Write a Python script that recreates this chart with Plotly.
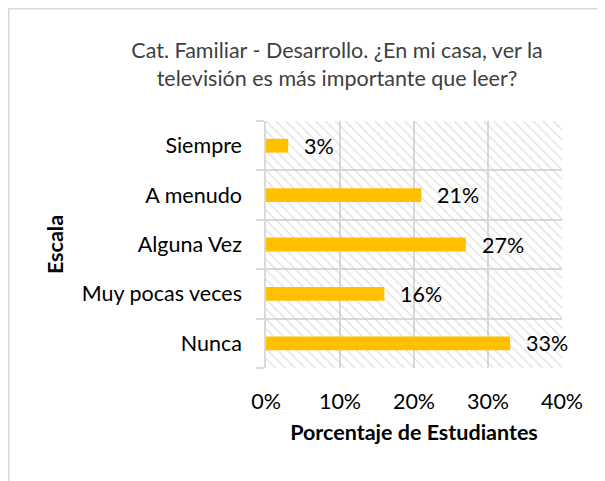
import plotly.graph_objects as go

categories = ["Siempre", "A menudo", "Alguna Vez", "Muy pocas veces", "Nunca"]
values = [0.03, 0.21, 0.27, 0.16, 0.33]
x_ticks = [0, 0.1, 0.2, 0.3, 0.4]

W, H = 605, 481
# page has an 8px body margin; figure coordinates below are page minus 8
L, R, T, B = 258, 51, 113, 121
FONT = "Lato"
FS = 21.5
GRID = "#d9d9d9"

fig = go.Figure()
# hatched plot-area background
fig.add_trace(go.Bar(
    y=categories, x=[x_ticks[-1]] * len(categories), orientation="h", width=1,
    marker=dict(color="rgba(0,0,0,0)", line=dict(width=0),
                pattern=dict(shape="\\", fgcolor="#c8c8c8", size=7, solidity=0.22)),
    hoverinfo="skip", showlegend=False,
))
fig.add_trace(go.Bar(
    y=categories, x=values, orientation="h", width=0.28,
    marker=dict(color="#FFC000", line=dict(width=0)), showlegend=False,
))
for c, v in zip(categories, values):
    fig.add_annotation(x=v, y=c, text=f"{v:.0%}", showarrow=False, xanchor="left",
                       xshift=14, font=dict(family=FONT, size=FS, color="#000000"))

pw = W - L - R
ph = H - T - B
fig.add_shape(type="rect", xref="paper", yref="paper",
              x0=(0.75 - L) / pw, x1=(W + 60 - L) / pw,
              y0=(H - B - (H + 20)) / ph, y1=(H - B - 0.75) / ph,
              line=dict(color=GRID, width=1.5), layer="below")

fig.update_layout(
    width=W, height=H, margin=dict(l=L, r=R, t=T, b=B),
    paper_bgcolor="white", plot_bgcolor="white", barmode="overlay",
    font=dict(family=FONT, size=FS, color="#000000"),
    title=dict(text="Cat. Familiar - Desarrollo. ¿En mi casa, ver la<br>televisión es más importante que leer?",
               x=329 / W, xanchor="center", xref="container",
               y=1 - 50 / H, yanchor="middle", yref="container",
               font=dict(family=FONT, size=FS, color="#404040")),
    xaxis=dict(range=[x_ticks[0], x_ticks[-1]], tickvals=x_ticks, tickformat=".0%",
               showgrid=True, gridcolor=GRID, gridwidth=1.5, zeroline=False,
               showline=False, ticks="", ticklabelstandoff=18,
               title=dict(text="<b>Porcentaje de Estudiantes</b>", standoff=12,
                          font=dict(family=FONT, size=FS, color="#000000"))),
    yaxis=dict(type="category", categoryorder="array", categoryarray=categories[::-1],
               range=[-0.5, len(categories) - 0.5], tickson="boundaries",
               ticks="outside", ticklen=8, tickcolor=GRID, tickwidth=1.5,
               showgrid=True, gridcolor=GRID, gridwidth=1.5,
               showline=True, linecolor=GRID, linewidth=1.5, ticklabelstandoff=18,
               title=dict(text="<b>Escala</b>", standoff=12,
                          font=dict(family=FONT, size=FS, color="#000000"))),
)
fig.write_html("out.html")
